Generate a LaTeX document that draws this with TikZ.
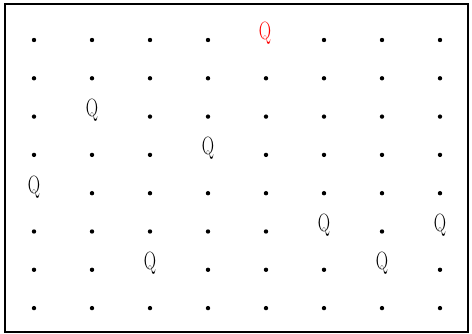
\documentclass[tikz,border=0pt]{standalone}
\begin{document}
\begin{tikzpicture}[x=1pt,y=-1pt,
  dotc/.style={circle,fill=black,inner sep=0pt,minimum size=4.4pt},
  queen/.style={inner sep=0pt,anchor=base,font=\fontsize{25}{25}\selectfont},
  frame/.style={draw=black,line width=1.8pt}]
\useasboundingbox (0,0) rectangle (472,334);
\draw[frame] (5,4) rectangle (468,332);
\foreach \r/\q in {1/5,2/0,3/2,4/4,5/1,6/6,7/3,8/0}{
  \foreach \c in {1,...,8}{
    \pgfmathsetmacro{\xx}{34+58*(\c-1)}
    \pgfmathsetmacro{\yy}{40+38.3*(\r-1)}
    \ifnum\c=\q\relax
    \else
      \ifnum\r=6 \ifnum\c=8 \else \node[dotc] (d\r\c) at (\xx,\yy) {};\fi
      \else \ifnum\r=7 \ifnum\c=7 \else \node[dotc] (d\r\c) at (\xx,\yy) {};\fi
      \else \node[dotc] (d\r\c) at (\xx,\yy) {};\fi\fi
    \fi
  }
}
\node[queen,text=red] (q1) at (265,40) {\scalebox{0.68}[1]{Q}};
\node[queen] (q3) at (92,116.6) {\scalebox{0.68}[1]{Q}};
\node[queen] (q4) at (208,154.9) {\scalebox{0.68}[1]{Q}};
\node[queen] (q5) at (34,193.2) {\scalebox{0.68}[1]{Q}};
\node[queen] (q6a) at (324,231.5) {\scalebox{0.68}[1]{Q}};
\node[queen] (q6b) at (440,231.5) {\scalebox{0.68}[1]{Q}};
\node[queen] (q7a) at (150,269.8) {\scalebox{0.68}[1]{Q}};
\node[queen] (q7b) at (382,269.8) {\scalebox{0.68}[1]{Q}};
\end{tikzpicture}
\end{document}
